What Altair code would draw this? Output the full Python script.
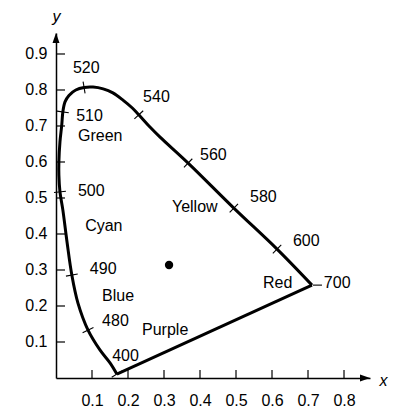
import math
import altair as alt
import pandas as pd

# Spectral locus, from 400 nm round to 700 nm
locus_x = [0.169, 0.150, 0.122, 0.089, 0.061, 0.044, 0.031, 0.019, 0.011, 0.008,
           0.008, 0.011, 0.016, 0.019, 0.025, 0.036, 0.055, 0.078, 0.103, 0.131,
           0.158, 0.186, 0.212, 0.230, 0.261, 0.289, 0.367, 0.494, 0.614, 0.711]
locus_y = [0.011, 0.042, 0.078, 0.133, 0.208, 0.286, 0.375, 0.467, 0.517, 0.564,
           0.600, 0.656, 0.703, 0.739, 0.767, 0.785, 0.800, 0.807, 0.808, 0.803,
           0.792, 0.772, 0.750, 0.731, 0.697, 0.669, 0.597, 0.472, 0.358, 0.258]
locus_nm = [400, None, None, 480, None, 490, None, None, 500, None,
            None, None, None, 510, None, None, None, 520, None, None,
            None, None, None, 540, None, None, 560, 580, 600, 700]

# Text labels (left edge, vertical middle)
label_text = ["520", "540", "510", "Green", "500", "Cyan", "490", "Blue", "480",
              "Purple", "400", "Yellow", "580", "560", "600", "Red", "700"]
label_x = [0.047, 0.242, 0.056, 0.061, 0.061, 0.081, 0.094, 0.128, 0.128,
           0.239, 0.156, 0.322, 0.539, 0.400, 0.658, 0.575, 0.744]
label_y = [0.861, 0.781, 0.728, 0.672, 0.519, 0.422, 0.303, 0.228, 0.158,
           0.133, 0.061, 0.475, 0.503, 0.619, 0.381, 0.264, 0.264]

# White point
white_x = [0.314]
white_y = [0.314]

x_ticks = [0.1, 0.2, 0.3, 0.4, 0.5, 0.6, 0.7, 0.8]
y_ticks = [0.1, 0.2, 0.3, 0.4, 0.5, 0.6, 0.7, 0.8, 0.9]

X_MAX = 0.8722
Y_MAX = 0.9583
W, H = 314, 345
FONT = "Liberation Sans"

sx = W / X_MAX
sy = H / Y_MAX

locus = pd.DataFrame({"x": locus_x, "y": locus_y, "i": list(range(len(locus_x)))})
purple = pd.DataFrame({"x": [locus_x[0], locus_x[-1]], "y": [locus_y[0], locus_y[-1]]})

rows = []
n = len(locus_x)
for i, nm in enumerate(locus_nm):
    if nm is None or nm == 700:
        continue
    a = max(i - 1, 0)
    b = min(i + 1, n - 1)
    dx = (locus_x[b] - locus_x[a]) * sx
    dy = -(locus_y[b] - locus_y[a]) * sy
    ang = math.degrees(math.atan2(dy, dx)) + 90.0
    rows.append({"x": locus_x[i], "y": locus_y[i], "angle": ang % 180.0})
ticks = pd.DataFrame(rows)
end700 = pd.DataFrame({"x": [locus_x[-1]], "y": [locus_y[-1]]})

labels = pd.DataFrame({"t": label_text, "x": label_x, "y": label_y})
white = pd.DataFrame({"x": white_x, "y": white_y})
xt = pd.DataFrame({"x": x_ticks})
yt = pd.DataFrame({"y": y_ticks})

xaxis = alt.Axis(values=x_ticks, format=".1f", ticks=False, tickSize=0, grid=False,
                 labelPadding=14, labelFont=FONT, labelFontSize=16, labelColor="black",
                 domainColor="black", domainWidth=1.5,
                 title="x", titleFont=FONT, titleFontSize=16, titleFontStyle="italic",
                 titleFontWeight="normal", titleColor="black", titleAngle=0,
                 titleX=327, titleY=7, titleAlign="center", titleBaseline="alphabetic")
yaxis = alt.Axis(values=y_ticks, format=".1f", ticks=False, tickSize=0, grid=False,
                 labelPadding=9, labelFont=FONT, labelFontSize=16, labelColor="black",
                 domainColor="black", domainWidth=1.5,
                 title="y", titleFont=FONT, titleFontSize=16, titleFontStyle="italic",
                 titleFontWeight="normal", titleColor="black", titleAngle=0,
                 titleX=0, titleY=-12, titleAlign="center", titleBaseline="alphabetic")
xs = alt.Scale(domain=[0, X_MAX], nice=False, zero=False)
ys = alt.Scale(domain=[0, Y_MAX], nice=False, zero=False)


def X():
    return alt.X("x:Q", scale=xs, axis=xaxis)


def Y():
    return alt.Y("y:Q", scale=ys, axis=yaxis)


curve = alt.Chart(locus).mark_line(
    interpolate="catmull-rom", color="black", strokeWidth=3
).encode(x=X(), y=Y(), order="i:Q")

purple_line = alt.Chart(purple).mark_line(color="black", strokeWidth=3).encode(x=X(), y=Y())

tick_marks = alt.Chart(ticks).mark_point(
    shape="M-1,0L1,0", size=144, filled=False, color="black", strokeWidth=1.1, opacity=1
).encode(x=X(), y=Y(), angle=alt.Angle("angle:Q", scale=None))

dash700 = alt.Chart(end700).mark_point(
    shape="M0.1,0L1,0", size=400, filled=False, color="black", strokeWidth=1.1, opacity=1
).encode(x=X(), y=Y())

dot = alt.Chart(white).mark_circle(size=70, color="black", opacity=1).encode(x=X(), y=Y())

text = alt.Chart(labels).mark_text(
    align="left", baseline="middle", font=FONT, fontSize=16, color="black"
).encode(x=X(), y=Y(), text="t:N")

xtick_rules = alt.Chart(xt).mark_rule(color="black", strokeWidth=1.2).encode(
    x=X(), y=alt.value(H), y2=alt.value(H - 8))
ytick_rules = alt.Chart(yt).mark_rule(color="black", strokeWidth=1.2).encode(
    y=Y(), x=alt.value(0), x2=alt.value(9))

arrow_up = alt.Chart(pd.DataFrame({"x": [0.0], "y": [Y_MAX]})).mark_point(
    shape="M0,0L-0.35,1L0.35,1Z", size=400, filled=True, color="black", opacity=1
).encode(x=X(), y=Y())
arrow_right = alt.Chart(pd.DataFrame({"x": [X_MAX], "y": [0.0]})).mark_point(
    shape="M0,0L-1,-0.35L-1,0.35Z", size=400, filled=True, color="black", opacity=1
).encode(x=X(), y=Y())

chart = alt.layer(
    xtick_rules, ytick_rules, curve, purple_line, tick_marks, dash700, dot, text,
    arrow_up, arrow_right
).properties(
    width=W, height=H,
    autosize=alt.AutoSizeParams(type="none"),
    padding={"left": 48, "top": 25, "right": 21, "bottom": 31},
    background="white",
).configure_view(stroke=None)

chart.save("out.html", embed_options={"renderer": "svg", "actions": False})
